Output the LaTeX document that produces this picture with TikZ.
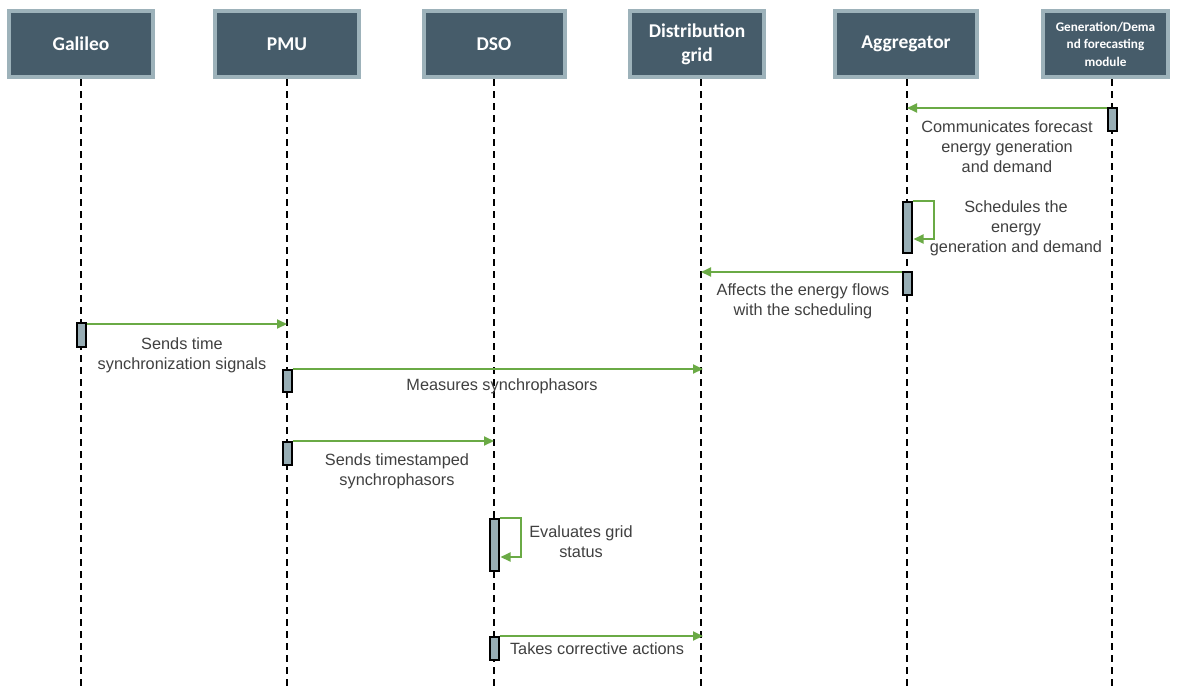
\documentclass[tikz,border=0pt]{standalone}
\usepackage{fontspec}
\setmainfont{Liberation Sans}
\newfontfamily\hdrfont{Carlito}
\usetikzlibrary{arrows.meta}
\definecolor{hdrfill}{HTML}{465C6A}
\definecolor{hdrline}{HTML}{9DB2BA}
\definecolor{actfill}{HTML}{97ADB4}
\definecolor{msgcol}{HTML}{6AAA45}
\definecolor{txtcol}{HTML}{404040}
\begin{document}
\begin{tikzpicture}[x=1pt,y=-1pt,
  hbox/.style={draw=hdrline, line width=4pt, fill=hdrfill, text=white,
    font=\hdrfont\bfseries\fontsize{19.5}{24}\selectfont, minimum height=66pt,
    align=center, inner sep=0pt},
  life/.style={draw=black, line width=2pt, dash pattern=on 7pt off 5pt},
  act/.style={draw=black, line width=2pt, fill=actfill, minimum width=9pt, inner sep=0pt},
  msgarrow/.style={draw=msgcol, line width=2pt, -{Triangle[length=10pt,width=9pt]}},
  lbl/.style={text=txtcol, font=\fontsize{16.3}{20}\selectfont, align=center, inner sep=0pt}]
\useasboundingbox[fill=white] (0,0) rectangle (1178,686);

% header boxes
\node[hbox, minimum width=144pt] (gal) at (81,44) {Galileo};
\node[hbox, minimum width=144pt] (pmu) at (287,44) {PMU};
\node[hbox, minimum width=141pt] (dso) at (494,44) {DSO};
\node[hbox, minimum width=134pt] (grid) at (697,44) {Distribution\\grid};
\node[hbox, minimum width=142pt] (agg) at (906,44) {Aggregator};
\node[hbox, minimum width=125pt, font=\hdrfont\bfseries\fontsize{13.2}{17.5}\selectfont] (gen) at (1105.5,44) {Generation/Dema\\nd forecasting\\module};

% lifelines
\coordinate (Lgal) at (81,79);   \coordinate (Egal) at (81,686);
\coordinate (Lpmu) at (287,79);  \coordinate (Epmu) at (287,686);
\coordinate (Ldso) at (494,79);  \coordinate (Edso) at (494,686);
\coordinate (Lgrid) at (701,79); \coordinate (Egrid) at (701,686);
\coordinate (Lagg) at (907,79);  \coordinate (Eagg) at (907,686);
\coordinate (Lgen) at (1112,79); \coordinate (Egen) at (1112,686);
\foreach \n in {gal,pmu,dso,grid,agg,gen} \draw[life] (L\n) -- (E\n);

% activation boxes
\node[act, minimum height=23pt] (a1) at (1112,119.5) {};
\node[act, minimum height=51pt] (a2) at (907,227.5) {};
\node[act, minimum height=23pt] (a3) at (907,283.5) {};
\node[act, minimum height=24pt] (a4) at (81,335) {};
\node[act, minimum height=22pt] (a5) at (287,381) {};
\node[act, minimum height=23pt] (a6) at (287,453.5) {};
\node[act, minimum height=52pt] (a7) at (494,545) {};
\node[act, minimum height=23pt] (a8) at (494,648.5) {};

% messages
\draw[msgarrow] ([yshift=-1pt]a1.north west) -- ([yshift=-1pt]a1.north west -| Lagg);
\node[lbl] (t1) at (1007,147) {Communicates forecast\\energy generation\\and demand};

\draw[msgarrow] (a2.north east) -- ++(21,0) -- ++(0,38) -- ++(-20,0);
\node[lbl] (t2) at (1016,228) {Schedules the\\energy\\generation and demand};

\draw[msgarrow] ([yshift=-1pt]a3.north west) -- ([yshift=-1pt]a3.north west -| Lgrid);
\node[lbl] (t3) at (803,301) {Affects the energy flows\\with the scheduling};

\draw[msgarrow] ([yshift=-2pt]a4.north east) -- ([yshift=-2pt]a4.north east -| Lpmu);
\node[lbl] (t4) at (182,355) {Sends time\\synchronization signals};

\draw[msgarrow] (a5.north east) -- ([xshift=2pt]a5.north east -| Lgrid);
\node[lbl] (t5) at (502,386) {Measures synchrophasors};

\draw[msgarrow] (a6.north east) -- (a6.north east -| Ldso);
\node[lbl] (t6) at (397,471) {Sends timestamped\\synchrophasors};

\draw[msgarrow] (a7.north east) -- ++(21,0) -- ++(0,39) -- ++(-20,0);
\node[lbl] (t7) at (581,542) {Evaluates grid\\status};

\draw[msgarrow] (a8.north east) -- ([xshift=2pt]a8.north east -| Lgrid);
\node[lbl] (t8) at (597,649) {Takes corrective actions};
\end{tikzpicture}
\end{document}
